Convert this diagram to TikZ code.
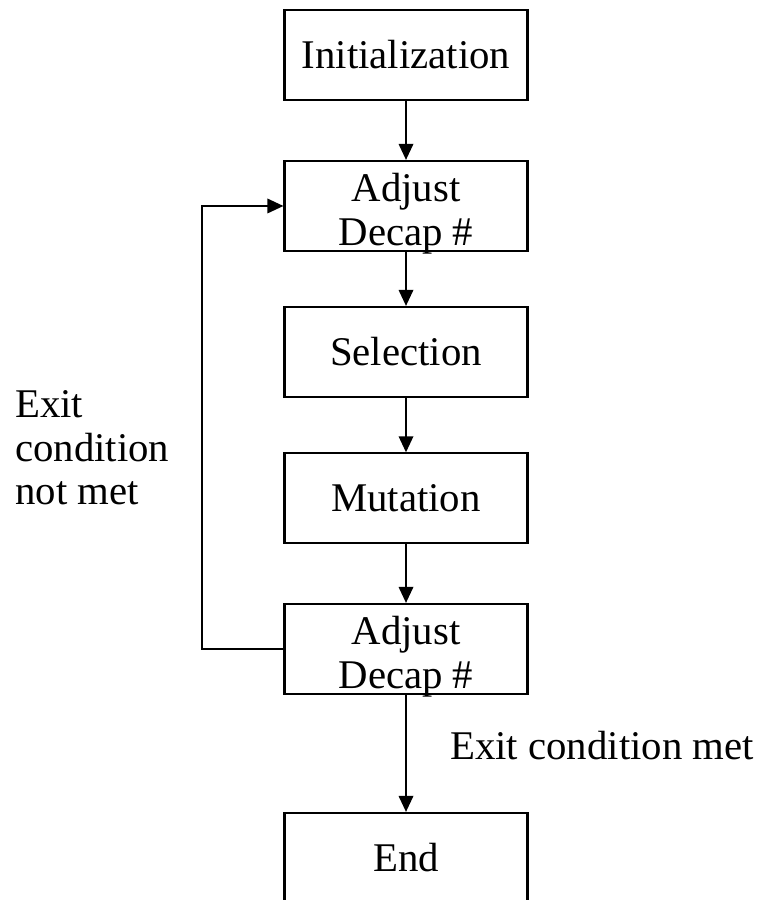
\documentclass[tikz,border=0pt]{standalone}
\usepackage{fontspec}
\setmainfont{Liberation Serif}
\usetikzlibrary{arrows.meta}

% two-line box text, sitting a little low in its box
\newcommand{\lowpair}[2]{\raisebox{-0.22cm}[\height][\depth]{\begin{tabular}{@{}c@{}}#1\\#2\end{tabular}}}

\begin{document}
\begin{tikzpicture}[
    stagebox/.style={draw, line width=1.5pt, minimum width=6.075cm, minimum height=2.25cm,
                     inner sep=0pt, align=center, font=\fontsize{29}{31}\selectfont},
    flow/.style={-{Triangle[length=0.4cm, width=0.36cm]}, line width=1.5pt},
    remark/.style={align=left, inner sep=0pt, font=\fontsize{29}{31}\selectfont}
]

% ── Frame ──
\useasboundingbox (0, 0) rectangle (19.05, 22.5);
\clip (0, 0) rectangle (19.05, 22.5);

% ── Stages ──
\node[stagebox] (init)    at (10.15, 21.125) {Initialization};
\node[stagebox] (adjustA) at (10.15, 17.35)  {\lowpair{Adjust}{Decap \#}};
\node[stagebox] (select)  at (10.15, 13.7)   {Selection};
\node[stagebox] (mutate)  at (10.15, 10.04)  {Mutation};
\node[stagebox] (adjustB) at (10.15, 6.275)  {\lowpair{Adjust}{Decap \#}};
\node[stagebox] (finish)  at (10.15, 1.05)   {End};

% ── Main flow ──
\foreach \from/\to in {init/adjustA, adjustA/select, select/mutate, mutate/adjustB, adjustB/finish} {
    \draw[flow] (\from) -- (\to);
}

% ── Loop back ──
\coordinate (loopB) at (5.05, 6.275);
\coordinate (loopA) at (5.05, 17.35);
\draw[flow] (adjustB.west) -- (loopB) -- (loopA) -- (adjustA.west);

% ── Labels ──
\node[remark, anchor=west] (notmet) at (0.375, 11.3) {Exit\\condition\\not met};
\node[remark, anchor=west] (met)    at (11.25, 3.85) {Exit condition met};

\end{tikzpicture}
\end{document}
